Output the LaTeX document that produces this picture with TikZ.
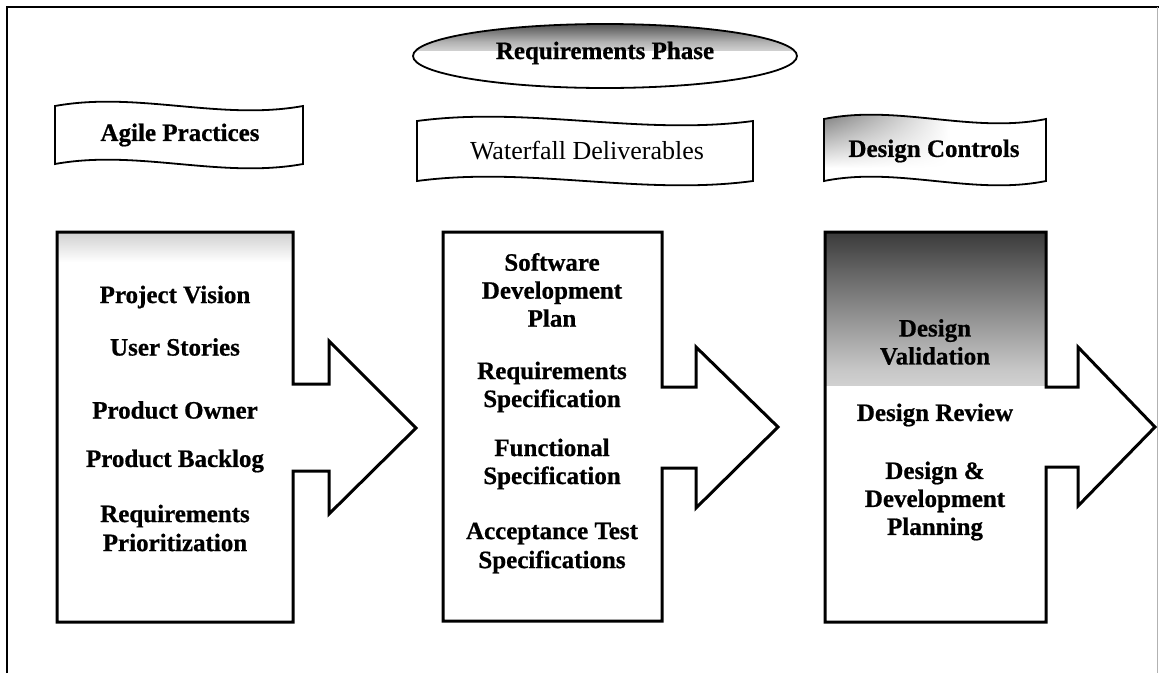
\documentclass[tikz,border=0pt]{standalone}
\usepackage{fontspec}
\setmainfont{Liberation Serif}
\newfontfamily\heavyserif{Liberation Serif Bold}[FakeBold=0.7]
\usetikzlibrary{shapes.geometric,shadings}

% dark band fading downwards to white
\pgfdeclareverticalshading{darktop}{100bp}{color(0bp)=(white); color(30bp)=(black!22); color(60bp)=(black!58); color(85bp)=(black!90); color(100bp)=(black)}
\pgfdeclareverticalshading{ovaltop}{100bp}{color(0bp)=(white); color(40bp)=(black!30); color(75bp)=(black!70); color(100bp)=(black!90)}

% wavy flag outline: left x, right x, top y, bottom y, wave depth
\newcommand{\flagpath}[5]{(#1,#3) .. controls ({#1+(#2-#1)/3},{#3-#5}) and ({#1+2*(#2-#1)/3},{#3+#5}) .. (#2,#3) -- (#2,#4) .. controls ({#1+2*(#2-#1)/3},{#4+#5}) and ({#1+(#2-#1)/3},{#4-#5}) .. (#1,#4) -- cycle}

% column boxes with an arrow on the right side
\def\colA{(57,232) -- (293,232) -- (293,384) -- (329,384) -- (329,341) -- (416,428) -- (329,514) -- (329,471) -- (293,471) -- (293,622) -- (57,622) -- cycle}
\def\colB{(443,232) -- (662,232) -- (662,387) -- (696,387) -- (696,347) -- (778,427) -- (696,508) -- (696,468) -- (662,468) -- (662,621) -- (443,621) -- cycle}
\def\colC{(825,232) -- (1046,232) -- (1046,387) -- (1078,387) -- (1078,347) -- (1155,427) -- (1078,506) -- (1078,467) -- (1046,467) -- (1046,622) -- (825,622) -- cycle}

\begin{document}
\begin{tikzpicture}[x=1pt,y=-1pt,
  outline/.style={draw=black, line width=3pt, line join=miter},
  flag/.style={draw=black, line width=1.8pt},
  lbl/.style={font=\heavyserif\fontsize{25}{29}\selectfont, align=center, inner sep=0pt},
  lbltight/.style={lbl, font=\heavyserif\fontsize{25}{28}\selectfont},
]
\useasboundingbox (0,0) rectangle (1159,673);
\fill[white] (0,0) rectangle (1159,673);

% page frame
\draw[line width=2.5pt] (7,673) -- (7,7) -- (1159,7);
\draw[black!30, line width=0.8pt] (1157,7) -- (1157,673);

% phase title
\begin{scope}
  \clip (605,56) ellipse [x radius=192pt, y radius=32pt];
  \fill[white] (413,24) rectangle (797,88);
  \shade[shading=ovaltop] (413,23) rectangle (797,50);
\end{scope}
\node[draw, ellipse, line width=1.8pt, minimum width=384pt, minimum height=64pt, inner sep=0pt] (phase) at (605,56) {};
\node[lbl] (phasetxt) at (605,53) {Requirements Phase};

% column headers
\fill[white] \flagpath{55}{303}{106}{164}{15};
\draw[flag] \flagpath{55}{303}{106}{164}{15};
\node[lbl] (agile) at (180,135) {Agile Practices};

\fill[white] \flagpath{417}{753}{121}{181}{15};
\draw[flag] \flagpath{417}{753}{121}{181}{15};
\node[lbl, font=\fontsize{26}{29}\selectfont] (waterfall) at (587,151) {Waterfall Deliverables};

\begin{scope}
  \clip \flagpath{824}{1046}{119}{181}{15};
  \fill[white] (820,100) rectangle (1050,190);
  \shade[upper left=black!60, upper right=white, lower left=white, lower right=white] (824,104) rectangle (950,168);
\end{scope}
\draw[flag] \flagpath{824}{1046}{119}{181}{15};
\node[lbl] (controls) at (934,151) {Design Controls};

% column 1: agile practices
\fill[white] \colA;
\shade[top color=black!18, bottom color=white] (58,233) rectangle (292,262);
\draw[outline] \colA;
\node[lbl] (vision)   at (175,297) {Project Vision};
\node[lbl] (stories)  at (175,347) {User Stories};
\node[lbl] (owner)    at (175,410) {Product Owner};
\node[lbl] (backlog)  at (175,461) {Product Backlog};
\node[lbl] (prio)     at (175,528) {Requirements\\Prioritization};

% column 2: waterfall deliverables
\fill[white] \colB;
\draw[outline] \colB;
\node[lbltight] (sdp)  at (552,290) {Software\\Development\\Plan};
\node[lbltight] (reqs) at (552,387) {Requirements\\Specification};
\node[lbltight] (func) at (552,464) {Functional\\Specification};
\node[lbl] (accept) at (552,548) {Acceptance Test\\Specifications};

% column 3: design controls
\fill[white] \colC;
\shade[shading=darktop] (825,232) rectangle (1046,385);
\draw[outline] \colC;
\node[lbltight] (valid)  at (935,342) {Design\\Validation};
\node[lbl] (review) at (935,415) {Design Review};
\node[lbltight] (plan)   at (935,501) {Design \&\\Development\\Planning};
\end{tikzpicture}
\end{document}
